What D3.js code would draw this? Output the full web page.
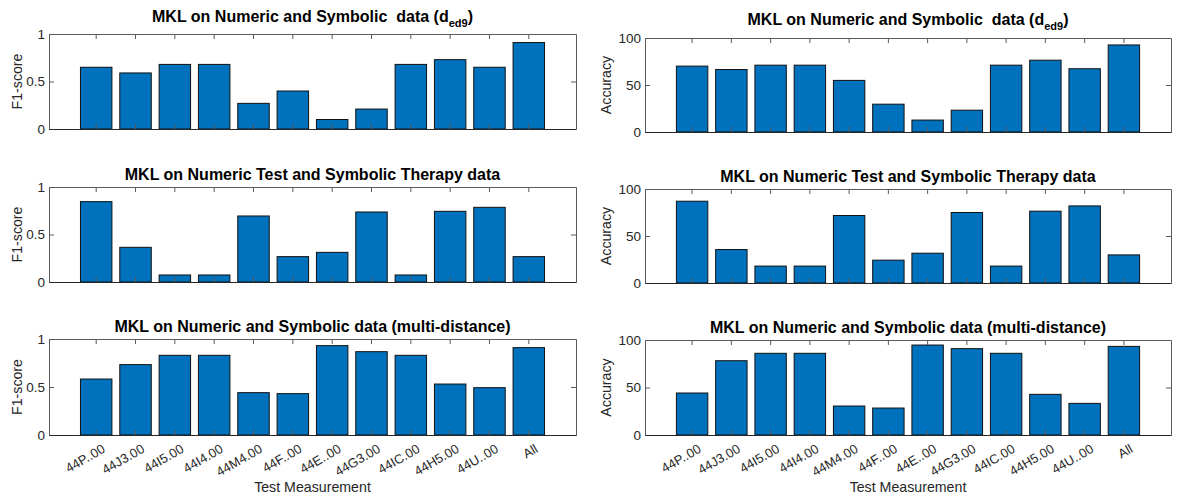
<!DOCTYPE html>
<html>
<head>
<meta charset="utf-8">
<script src="https://cdn.jsdelivr.net/npm/d3@7"></script>
<style>
    body { margin: 0; background: #fff; }
    svg { display: block; font-family: "Liberation Sans", Arial, Helvetica, sans-serif; }
    .title { font-weight: bold; font-size: 16px; fill: #000; white-space: pre; }
    .ylab, .xlab { font-size: 14.2px; fill: #262626; }
    .tick text { font-size: 13.5px; fill: #262626; }
    .xticks .tick text { font-size: 13px; }
    .bar { fill: #0072BD; stroke: #111; stroke-width: 1; }
    .domain, .tick line { stroke: #5a5a5a; stroke-width: 1; }
    .xticks .domain { stroke: #262626; }
</style>
</head>
<body>
<svg width="1179" height="496"></svg>
<script>
'use strict';

// test measurement codes on the x axis
let categories = ["44P..00", "44J3.00", "44I5.00", "44I4.00", "44M4.00", "44F..00",
    "44E..00", "44G3.00", "44IC.00", "44H5.00", "44U..00", "All"];

// MKL on numeric and symbolic data (d_ed9)
let f1Ded9 = [0.65, 0.59, 0.68, 0.68, 0.27, 0.40, 0.10, 0.21, 0.68, 0.73, 0.65, 0.91];
let accDed9 = [70.1, 66.5, 71.1, 71.1, 54.9, 29.6, 12.7, 23.2, 71.1, 76.4, 67.3, 92.6];

// MKL on numeric test and symbolic therapy data
let f1Therapy = [0.846, 0.365, 0.074, 0.074, 0.695, 0.267, 0.312, 0.737, 0.074, 0.744, 0.786, 0.267];
let accTherapy = [87.0, 35.6, 18.0, 18.0, 71.8, 24.3, 31.7, 75.0, 18.0, 76.4, 82.0, 29.9];

// MKL on numeric and symbolic data (multi-distance)
let f1Multi = [0.583, 0.733, 0.830, 0.830, 0.441, 0.431, 0.931, 0.868, 0.830, 0.531, 0.493, 0.910];
let accMulti = [44.2, 78.2, 86.0, 86.0, 30.5, 28.4, 94.7, 90.9, 86.0, 42.8, 33.3, 93.3];

let f1Ticks = [0, 0.5, 1];
let accTicks = [0, 50, 100];

let svg = d3.select("svg");

let cols = [
    {x0: 49, x1: 576, ylabDx: 27, ylabel: "F1-score", ticks: f1Ticks, max: 1},
    {x0: 645, x1: 1171, ylabDx: 34, ylabel: "Accuracy", ticks: accTicks, max: 100}
];

let panels = [
    {col: 0, top: 34, bottom: 129, titleY: 22, values: f1Ded9, title: "ded9"},
    {col: 1, top: 38, bottom: 132, titleY: 25, values: accDed9, title: "ded9"},
    {col: 0, top: 187, bottom: 282, titleY: 180, values: f1Therapy, title: "MKL on Numeric Test and Symbolic Therapy data"},
    {col: 1, top: 189, bottom: 283, titleY: 182, values: accTherapy, title: "MKL on Numeric Test and Symbolic Therapy data"},
    {col: 0, top: 339, bottom: 435, titleY: 332, values: f1Multi, title: "MKL on Numeric and Symbolic data (multi-distance)", xaxis: true},
    {col: 1, top: 340, bottom: 435, titleY: 333, values: accMulti, title: "MKL on Numeric and Symbolic data (multi-distance)", xaxis: true}
];

function drawPanel(p) {
    let c = cols[p.col];
    let x = d3.scaleBand().domain(categories).range([c.x0, c.x1])
        .paddingInner(0.2).paddingOuter(0.8);
    let y = d3.scaleLinear().domain([0, c.max]).range([p.bottom, p.top]);
    let g = svg.append("g");

    g.selectAll(".bar")
        .data(p.values)
        .enter().append("rect")
        .attr("class", "bar")
        .attr("x", function (d, i) { return x(categories[i]); })
        .attr("width", x.bandwidth())
        .attr("y", function (d) { return y(d); })
        .attr("height", function (d) { return y(0) - y(d); });

    // box with inward ticks on all four sides, like matlab
    g.append("g").attr("transform", "translate(0," + p.top + ")")
        .call(d3.axisTop(x).tickSize(-5).tickSizeOuter(0).tickFormat(""));
    g.append("g").attr("transform", "translate(" + c.x1 + ",0)")
        .call(d3.axisRight(y).tickValues(c.ticks).tickSize(-5).tickSizeOuter(0).tickFormat(""));
    g.append("g").attr("transform", "translate(" + c.x0 + ",0)")
        .call(d3.axisLeft(y).tickValues(c.ticks).tickSize(-5).tickSizeOuter(0).tickPadding(4).tickFormat(String));
    let bottom = g.append("g").attr("class", "xticks")
        .attr("transform", "translate(0," + p.bottom + ")")
        .call(d3.axisBottom(x).tickSize(-5).tickSizeOuter(0));

    if (p.xaxis) {
        bottom.selectAll(".tick text")
            .attr("y", 0).attr("dy", "0.75em")
            .attr("text-anchor", "end")
            .attr("transform", "translate(5,8) rotate(-30)");
        g.append("text").attr("class", "xlab")
            .attr("x", (c.x0 + c.x1) / 2).attr("y", 492)
            .attr("text-anchor", "middle")
            .text("Test Measurement");
    } else {
        bottom.selectAll(".tick text").remove();
    }

    g.append("text").attr("class", "ylab")
        .attr("transform", "translate(" + (c.x0 - c.ylabDx) + "," + ((p.top + p.bottom) / 2) + ") rotate(-90)")
        .attr("text-anchor", "middle")
        .text(c.ylabel);

    let t = g.append("text").attr("class", "title")
        .attr("x", (c.x0 + c.x1) / 2).attr("y", p.titleY)
        .attr("text-anchor", "middle");
    if (p.title === "ded9") {
        t.append("tspan").text("MKL on Numeric and Symbolic  data (d");
        t.append("tspan").attr("dy", 5).style("font-size", "11px").text("ed9");
        t.append("tspan").attr("dy", -5).text(")");
    } else {
        t.text(p.title);
    }
}

panels.forEach(drawPanel);
</script>
</body>
</html>
